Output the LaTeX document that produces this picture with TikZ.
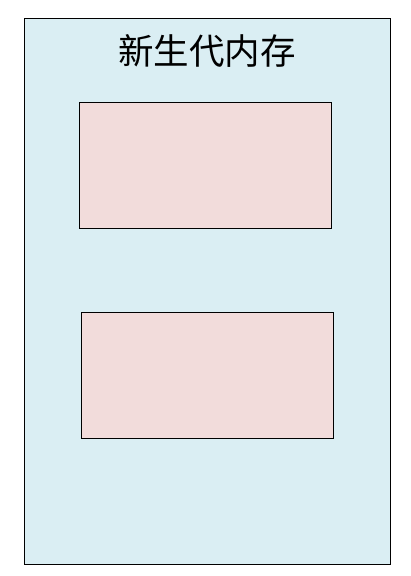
\documentclass[tikz,border=0pt]{standalone}
\usepackage{fontspec}
\newfontfamily\cjk{Noto Sans CJK SC}
\definecolor{outerfill}{HTML}{DAEEF3}
\definecolor{innerfill}{HTML}{F2DCDB}
\begin{document}
\begin{tikzpicture}[x=1pt,y=-1pt,
  region/.style={draw=black,line width=0.8pt},
  space/.style={draw=black,line width=0.8pt,fill=innerfill}]
\useasboundingbox (0,0) rectangle (411,576);
\fill[white] (0,0) rectangle (411,576);
\path[region,fill=outerfill] (24,18) rectangle (390,564);
\node (title) at (207,51) {\cjk\fontsize{35.5}{40}\selectfont 新生代内存};
\path[space] (79,102) rectangle (331,228);
\path[space] (81,312) rectangle (333,438);
\end{tikzpicture}
\end{document}
